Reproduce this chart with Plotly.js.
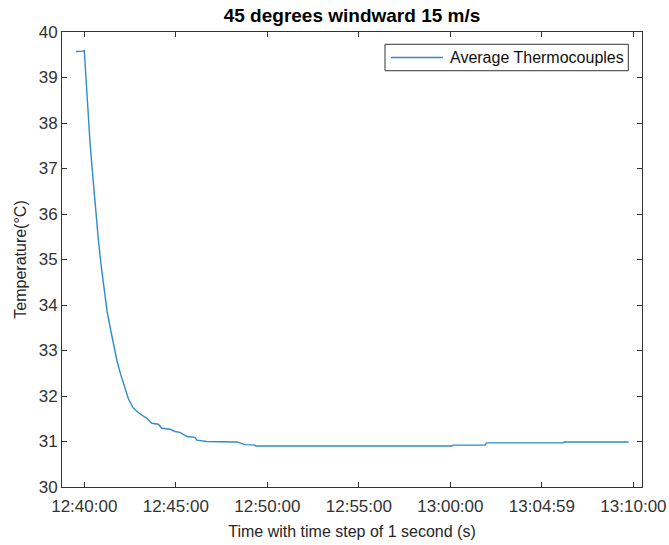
<!DOCTYPE html>
<html>
<head>
<meta charset="utf-8">
<script src="https://cdn.plot.ly/plotly-3.0.1.min.js"></script>
<style>
  html, body { margin: 0; padding: 0; background: #fff; }
  #chart { width: 669px; height: 545px; }
</style>
</head>
<body>
<div id="chart"></div>
<script>
// Sample date for the clock times (only the time of day is shown)
const day = '2021-03-10 ';

// Average thermocouple temperature readings (clock time, °C)
const times = [
  '12:39:33', '12:39:56', '12:40:00', '12:40:10', '12:40:19', '12:40:29',
  '12:40:38', '12:40:46', '12:40:55', '12:41:05', '12:41:15', '12:41:25',
  '12:41:35', '12:41:47', '12:41:59', '12:42:11', '12:42:24', '12:42:40',
  '12:43:00', '12:43:25', '12:43:41', '12:44:03', '12:44:14', '12:44:41',
  '12:44:57', '12:45:14', '12:45:36', '12:46:03', '12:46:09', '12:46:41',
  '12:48:20', '12:48:47', '12:49:20', '12:49:22', '13:00:05', '13:00:08',
  '13:01:54', '13:01:58', '13:06:10', '13:06:13', '13:09:44'
];
const temps = [
  39.57, 39.58, 39.60, 38.40, 37.55, 36.75,
  36.02, 35.45, 34.88, 34.32, 33.85, 33.50,
  33.17, 32.78, 32.48, 32.20, 31.95, 31.74,
  31.62, 31.51, 31.40, 31.38, 31.29, 31.27,
  31.22, 31.20, 31.11, 31.09, 31.03, 31.00,
  30.99, 30.93, 30.92, 30.90, 30.90, 30.92,
  30.92, 30.97, 30.97, 30.99, 30.99
];

// Axis ticks
const xTickTimes = ['12:40:00', '12:45:00', '12:50:00', '12:55:00', '13:00:00', '13:05:00', '13:10:00'];
const xTickLabels = ['12:40:00', '12:45:00', '12:50:00', '12:55:00', '13:00:00', '13:04:59', '13:10:00'];
const yTicks = [30, 31, 32, 33, 34, 35, 36, 37, 38, 39, 40];

const seriesName = 'Average Thermocouples';
const lineColor = '#2f8cc9';
const axisColor = '#333333';
const font = 'Arial, "Liberation Sans", Helvetica, sans-serif';

const trace = {
  x: times.map(t => day + t),
  y: temps,
  type: 'scatter',
  mode: 'lines',
  name: seriesName,
  showlegend: false,
  line: { color: lineColor, width: 1.4 }
};

// Boxed legend in the upper right corner of the axes
const legendShapes = [
  { type: 'rect', xref: 'paper', yref: 'paper', x0: 0.5569, x1: 0.9764, y0: 0.9149, y1: 0.973,
    line: { color: axisColor, width: 1 }, fillcolor: '#ffffff', layer: 'above' },
  { type: 'line', xref: 'paper', yref: 'paper', x0: 0.5672, x1: 0.6569, y0: 0.944, y1: 0.944,
    line: { color: lineColor, width: 1.4 }, layer: 'above' }
];
const legendLabel = {
  xref: 'paper', yref: 'paper', x: 0.6655, y: 0.944, xanchor: 'left', yanchor: 'middle',
  text: seriesName, showarrow: false,
  font: { family: font, size: 16, color: '#111111' }
};

const layout = {
  width: 669,
  height: 545,
  margin: { l: 62, r: 27, t: 32, b: 58 },
  paper_bgcolor: '#ffffff',
  plot_bgcolor: '#ffffff',
  font: { family: font, color: axisColor },
  title: {
    text: '<b>45 degrees windward 15 m/s</b>',
    font: { family: font, size: 19, color: '#000000' },
    x: 0.5, xanchor: 'center', xref: 'paper',
    y: 1, yref: 'paper', yanchor: 'bottom', pad: { b: 10 }
  },
  xaxis: {
    type: 'date',
    range: [day + '12:38:47', day + '13:10:28'],
    tickmode: 'array',
    tickvals: xTickTimes.map(t => day + t),
    ticktext: xTickLabels,
    ticks: 'inside', ticklen: 5, tickwidth: 1, tickcolor: axisColor,
    ticklabelstandoff: 4,
    showline: true, linecolor: axisColor, linewidth: 1, mirror: 'ticks',
    showgrid: false, zeroline: false,
    tickfont: { family: font, size: 17, color: '#333333' },
    title: { text: 'Time with time step of 1 second (s)', font: { family: font, size: 16, color: '#262626' }, standoff: 10 }
  },
  yaxis: {
    range: [30, 40],
    tickmode: 'array',
    tickvals: yTicks,
    ticktext: yTicks.map(String),
    ticks: 'inside', ticklen: 5, tickwidth: 1, tickcolor: axisColor,
    showline: true, linecolor: axisColor, linewidth: 1, mirror: 'ticks',
    showgrid: false, zeroline: false,
    tickfont: { family: font, size: 17, color: '#333333' },
    title: { text: 'Temperature(°C)', font: { family: font, size: 16, color: '#262626' }, standoff: 8 }
  },
  showlegend: false,
  shapes: legendShapes,
  annotations: [legendLabel]
};

Plotly.newPlot('chart', [trace], layout, { displayModeBar: false, staticPlot: true });
</script>
</body>
</html>
